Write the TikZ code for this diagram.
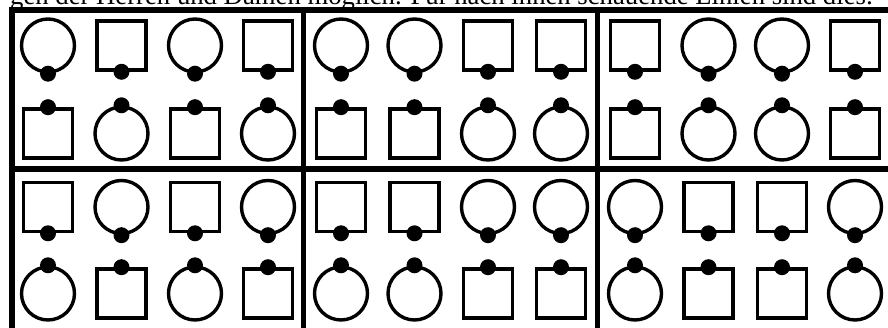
\documentclass[tikz,border=0pt]{standalone}
\usepackage{graphicx}
\usepackage{fontspec}
\setmainfont{Liberation Serif}
\begin{document}
\begin{tikzpicture}[x=1pt,y=-1pt,
  frame/.style={line width=5.5pt},
  ring/.style={circle,draw,line width=3.4pt,minimum size=53pt,inner sep=0pt},
  box/.style={rectangle,draw,line width=3.6pt,minimum size=49pt,inner sep=0pt},
  knob/.style={fill=black}]
\clip (0,0) rectangle (888,328);
\node[anchor=base west,inner sep=0pt] (txt) at (10,5)
  {\resizebox{863pt}{!}{gen der Herren und Damen möglich. Für nach innen schauende Linien sind dies:}};
% frame
\coordinate (ta) at (9,10);   \coordinate (tb) at (892,10);
\coordinate (la) at (12,8);    \coordinate (lb) at (12,332);
\coordinate (va) at (303.5,10); \coordinate (vb) at (303.5,332);
\coordinate (wa) at (597.5,10); \coordinate (wb) at (597.5,332);
\coordinate (ha) at (12,169);  \coordinate (hb) at (892,169);
\draw[frame] (ta) -- (tb);
\draw[frame] (la) -- (lb);
\draw[frame] (va) -- (vb);
\draw[frame] (wa) -- (wb);
\draw[frame] (ha) -- (hb);
% shapes
\foreach \L/\ya/\yb/\a/\b/\c/\d/\e/\f/\g/\h [count=\i] in {
  12/45.5/133.5/ring/box/ring/box/box/ring/box/ring,
  305/45.5/133.5/ring/ring/box/box/box/box/ring/ring,
  599/45.5/133.5/box/ring/ring/box/box/ring/ring/box,
  12/207/293.5/box/ring/box/ring/ring/box/ring/box,
  305/207/293.5/box/box/ring/ring/ring/ring/box/box,
  599/207/293.5/ring/box/box/ring/ring/box/box/ring}{
  \foreach \s/\dx [count=\k] in {\a/36,\b/109.5,\c/183,\d/256}{
    \node[\s] (u-\i-\k) at (\L+\dx,\ya) {};
    \fill[knob] (u-\i-\k.south) circle (8pt);
  }
  \foreach \s/\dx [count=\k] in {\e/36,\f/109.5,\g/183,\h/256}{
    \node[\s] (d-\i-\k) at (\L+\dx,\yb) {};
    \fill[knob] (d-\i-\k.north) circle (8pt);
  }
}
\end{tikzpicture}
\end{document}
